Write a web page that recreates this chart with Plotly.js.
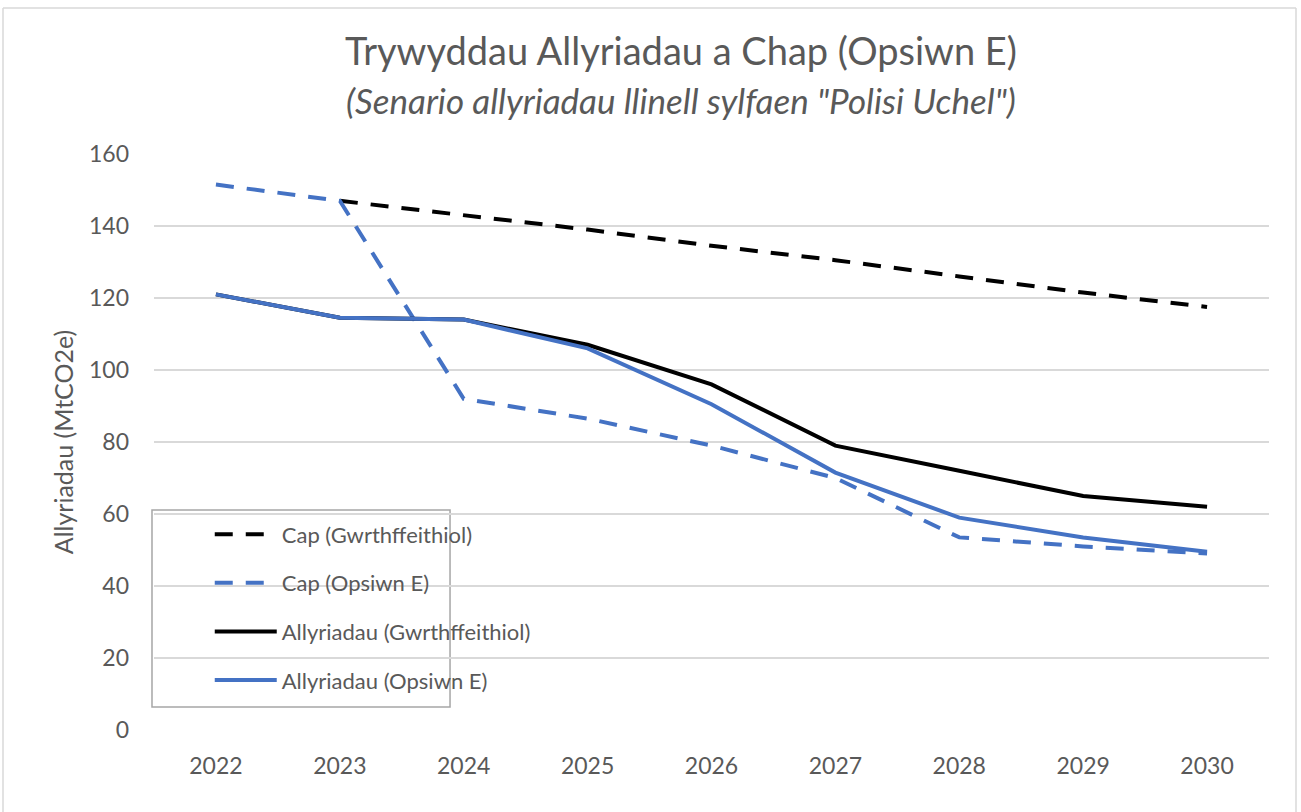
<!DOCTYPE html>
<html>
<head>
<meta charset="utf-8">
<script src="https://cdn.plot.ly/plotly-3.0.1.min.js"></script>
<style>html,body{margin:0;padding:0;background:#fff;}#chart{width:1301px;height:812px;}</style>
</head>
<body>
<div id="chart"></div>
<script>
const years = [2022, 2023, 2024, 2025, 2026, 2027, 2028, 2029, 2030];
const capCounterfactual = [null, 147, 143, 139, 134.5, 130.5, 126, 121.5, 117.5];
const capOptionE = [151.5, 147, 92, 86.5, 79, 70, 53.5, 51, 49];
const emissionsCounterfactual = [121, 114.5, 114, 107, 96, 79, 72, 65, 62];
const emissionsOptionE = [121, 114.5, 114, 106, 90.5, 71.5, 59, 53.5, 49.5];
const seriesNames = ["Cap (Gwrthffeithiol)", "Cap (Opsiwn E)", "Allyriadau (Gwrthffeithiol)", "Allyriadau (Opsiwn E)"];
const yTicks = [0, 20, 40, 60, 80, 100, 120, 140, 160];

const FONT = "Lato, 'Open Sans', sans-serif";
const GREY = "#595959";
const BLUE = "#4472C4";

const traces = [
  {x: years, y: capCounterfactual, name: seriesNames[0], legendgroup: "a",
   line: {color: "#000000", width: 4, dash: "18px,13px"}},
  {x: years, y: capOptionE, name: seriesNames[1], legendgroup: "b",
   line: {color: BLUE, width: 4, dash: "18px,13px"}},
  {x: years, y: emissionsCounterfactual, name: seriesNames[2], legendgroup: "c",
   line: {color: "#000000", width: 4}},
  {x: years, y: emissionsOptionE, name: seriesNames[3], legendgroup: "d",
   line: {color: BLUE, width: 4}}
].map(t => Object.assign({type: "scatter", mode: "lines", connectgaps: false, hoverinfo: "skip"}, t));

const layout = {
  width: 1301, height: 812,
  margin: {l: 154, r: 32, t: 154, b: 82},
  paper_bgcolor: "#ffffff", plot_bgcolor: "#ffffff",
  font: {family: FONT, color: GREY, size: 18},
  title: {
    text: "Trywyddau Allyriadau a Chap (Opsiwn E)<br><i><span style='font-size:35px'>(Senario allyriadau llinell sylfaen \"Polisi Uchel\")</span></i>",
    font: {family: FONT, size: 38, color: GREY},
    x: 0.4726, xref: "paper", xanchor: "center", y: 0.92, yanchor: "top"
  },
  xaxis: {
    type: "linear", range: [2021.5, 2030.5], tickvals: years, ticktext: years.map(String),
    showgrid: false, zeroline: false, showline: false, ticks: "",
    tickfont: {family: FONT, size: 23, color: GREY}, ticklabelstandoff: 20
  },
  yaxis: {
    range: [0, 160], tickvals: yTicks, showgrid: true, gridcolor: "#d9d9d9", gridwidth: 1.5,
    zeroline: false, showline: false, ticks: "",
    tickfont: {family: FONT, size: 23, color: GREY}, ticklabelstandoff: 24,
    title: {text: "Allyriadau (MtCO2e)", font: {family: FONT, size: 25, color: GREY}, standoff: 8}
  },
  showlegend: true,
  legend: {
    x: 0.05, xanchor: "left", y: 0.376, yanchor: "top",
    bgcolor: "rgba(0,0,0,0)", borderwidth: 0,
    font: {family: FONT, size: 22, color: GREY},
    traceorder: "grouped", tracegroupgap: 17, itemwidth: 62
  },
  shapes: [
    {type: "rect", xref: "paper", yref: "paper", layer: "between",
     x0: -0.0018, x1: 0.2655, y0: (730 - 707) / 576, y1: (730 - 510) / 576,
     fillcolor: "#ffffff", line: {color: "#a6a6a6", width: 1.5}},
    {type: "line", xref: "paper", yref: "paper", x0: (3 - 154) / 1115, x1: (3 - 154) / 1115,
     y0: (730 - 812) / 576, y1: (730 - 8) / 576, line: {color: "#d9d9d9", width: 1.5}},
    {type: "line", xref: "paper", yref: "paper", x0: (1296 - 154) / 1115, x1: (1296 - 154) / 1115,
     y0: (730 - 812) / 576, y1: (730 - 8) / 576, line: {color: "#d9d9d9", width: 1.5}},
    {type: "line", xref: "paper", yref: "paper", x0: (3 - 154) / 1115, x1: (1296 - 154) / 1115,
     y0: (730 - 8) / 576, y1: (730 - 8) / 576, line: {color: "#d9d9d9", width: 1.5}}
  ]
};

Plotly.newPlot("chart", traces, layout, {displayModeBar: false, responsive: false});
</script>
</body>
</html>
